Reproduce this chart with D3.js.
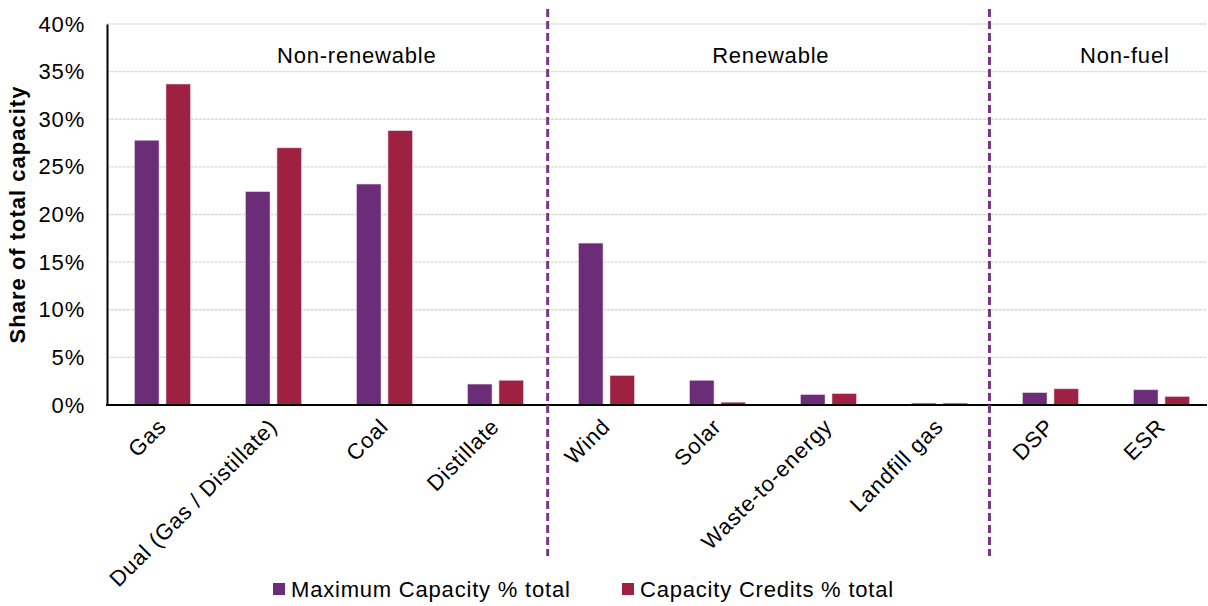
<!DOCTYPE html>
<html><head><meta charset="utf-8">
<script src="https://cdn.jsdelivr.net/npm/d3@7"></script>
<style>
body{margin:0;background:#fff;}
text{font-family:"Liberation Sans",Arial,sans-serif;fill:#000;}
</style></head>
<body><svg id="chart" width="1208" height="606"></svg>
<script>
const categories = ["Gas","Dual (Gas / Distillate)","Coal","Distillate","Wind","Solar","Waste-to-energy","Landfill gas","DSP","ESR"];
const seriesNames = ["Maximum Capacity % total","Capacity Credits % total"];
const maxCapacity = [27.8,22.4,23.2,2.2,17.0,2.6,1.1,0.2,1.3,1.6];
const capacityCredits = [33.7,27.0,28.8,2.6,3.1,0.3,1.2,0.2,1.7,0.9];
const yTicks = [0,5,10,15,20,25,30,35,40];
const groupLabels = ["Non-renewable","Renewable","Non-fuel"];
const groupLabelPos = [2.25,5.98,9.17];   // in category units
const separatorPos = [3.97,7.95];          // in category units
const colors = ["#6b2d77","#9e2142"];

const svg = d3.select("#chart");
const pLeft = 107, pRight = 1217, pTop = 24, pBottom = 405, plotRight = 1207;
const FS = 22, LS = "0.8px";

const x0 = d3.scaleBand().domain(categories).range([pLeft,pRight]).padding(0);
const xu = d3.scaleLinear().domain([0,categories.length]).range([pLeft,pRight]);
const y = d3.scaleLinear().domain([0,40]).range([pBottom,pTop]);
const x1 = d3.scaleBand().domain([0,1]).range([-28,28]).paddingInner(0.22).paddingOuter(0);

// gridlines
svg.append("g").selectAll("line").data(yTicks.filter(d=>d>0)).join("line")
  .attr("x1",pLeft).attr("x2",plotRight).attr("y1",d=>y(d)).attr("y2",d=>y(d))
  .attr("stroke","#d9d9d9").attr("stroke-width",1.3).attr("stroke-dasharray","3,1");

// y axis via d3.axisLeft
const yAxis = svg.append("g").attr("transform",`translate(${pLeft},0)`)
  .call(d3.axisLeft(y).tickValues(yTicks).tickFormat(d=>d+"%").tickSize(0).tickPadding(22));
yAxis.select(".domain").attr("stroke","#000").attr("stroke-width",2);
yAxis.selectAll("text").attr("font-size",FS).attr("letter-spacing",LS)
  .attr("font-family","Liberation Sans, Arial, sans-serif").attr("fill","#000");

// bars
const series = [maxCapacity, capacityCredits];
series.forEach((vals,si)=>{
  svg.append("g").selectAll("rect").data(categories).join("rect")
    .attr("x",(c)=>x0(c)+x0.bandwidth()/2 + x1(si))
    .attr("width",x1.bandwidth())
    .attr("y",(c,i)=>y(vals[i]))
    .attr("height",(c,i)=>y(0)-y(vals[i]))
    .attr("fill",colors[si]).attr("stroke","#e6d3e6").attr("stroke-width",0.6);
});

// x axis line
svg.append("line").attr("x1",pLeft-1).attr("x2",plotRight).attr("y1",y(0)).attr("y2",y(0))
  .attr("stroke","#000").attr("stroke-width",2);

// separators
svg.append("g").selectAll("line").data(separatorPos).join("line")
  .attr("x1",d=>xu(d)).attr("x2",d=>xu(d)).attr("y1",9).attr("y2",556)
  .attr("stroke","#7b3588").attr("stroke-width",3).attr("stroke-dasharray","8,4");

// group labels
svg.append("g").selectAll("text").data(groupLabels).join("text")
  .attr("x",(d,i)=>xu(groupLabelPos[i])).attr("y",63)
  .attr("text-anchor","middle").attr("font-size",FS).attr("letter-spacing",LS).text(d=>d);

// category labels
svg.append("g").selectAll("text").data(categories).join("text")
  .attr("transform",c=>`translate(${x0(c)+x0.bandwidth()/2+5},428) rotate(-45)`)
  .attr("text-anchor","end").attr("font-size",FS).attr("letter-spacing",LS).text(c=>c);

// y title
svg.append("text").attr("transform",`translate(25,${(pTop+pBottom)/2}) rotate(-90)`)
  .attr("text-anchor","middle").attr("font-size",FS).attr("font-weight","bold")
  .attr("letter-spacing","1px").text("Share of total capacity");

// legend
const legX = [273,622];
const leg = svg.append("g").selectAll("g").data(seriesNames).join("g")
  .attr("transform",(d,i)=>`translate(${legX[i]},583)`);
leg.append("rect").attr("width",12).attr("height",12).attr("fill",(d,i)=>colors[i]);
leg.append("text").attr("x",18).attr("y",14).attr("font-size",FS).attr("letter-spacing",LS).text(d=>d);
</script></body></html>
